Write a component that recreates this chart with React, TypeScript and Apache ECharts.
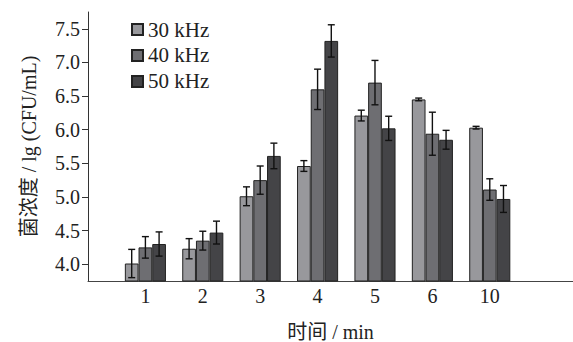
import React, { useEffect, useRef } from "react";
import * as echarts from "echarts";

const categories = ["1", "2", "3", "4", "5", "6", "10"];
const seriesNames = ["30 kHz", "40 kHz", "50 kHz"];
const values30 = [4.01, 4.23, 5.01, 5.46, 6.21, 6.45, 6.03];
const values40 = [4.25, 4.35, 5.25, 6.6, 6.7, 5.94, 5.11];
const values50 = [4.3, 4.47, 5.61, 7.32, 6.02, 5.85, 4.97];
const errors30 = [0.21, 0.15, 0.14, 0.08, 0.08, 0.02, 0.02];
const errors40 = [0.16, 0.14, 0.21, 0.3, 0.33, 0.32, 0.16];
const errors50 = [0.18, 0.17, 0.19, 0.24, 0.18, 0.14, 0.2];
const yTicks = [4.0, 4.5, 5.0, 5.5, 6.0, 6.5, 7.0, 7.5];
const colors = ["#98989c", "#6e6e72", "#444447"];

const FONT = "'Liberation Serif', 'Noto Sans CJK SC', serif";
const BAR_W = 13.7;

export default function App() {
  const ref = useRef<HTMLDivElement>(null);
  useEffect(() => {
    const chart = echarts.init(ref.current!, null, { renderer: "svg" });
    const allValues = [values30, values40, values50];
    const allErrors = [errors30, errors40, errors50];
    const positions = categories.map((_, i) => i + 1);

    const barSeries = allValues.map((vals, si) => ({
      type: "bar",
      name: seriesNames[si],
      data: vals.map((v, i) => [positions[i], v]),
      barWidth: BAR_W,
      barGap: "0%",
      itemStyle: { color: colors[si], borderColor: "#222", borderWidth: 1 },
      z: 2,
    }));

    const errSeries = allValues.map((vals, si) => ({
      type: "custom",
      name: seriesNames[si] + " err",
      z: 5,
      clip: true,
      data: vals.map((v, i) => [positions[i], v, allErrors[si][i]]),
      encode: { x: 0, y: 1 },
      renderItem: (params: any, api: any) => {
        const xi = api.value(0);
        const v = api.value(1);
        const e = api.value(2);
        const c = api.coord([xi, v]);
        const x = c[0] + (si - 1) * BAR_W;
        const top = api.coord([xi, v + e])[1];
        const bot = api.coord([xi, v - e])[1];
        const cap = 3.5;
        const st = { stroke: "#111", lineWidth: 1.4 };
        return {
          type: "group",
          children: [
            { type: "line", shape: { x1: x, y1: top, x2: x, y2: bot }, style: st },
            { type: "line", shape: { x1: x - cap, y1: top, x2: x + cap, y2: top }, style: st },
            { type: "line", shape: { x1: x - cap, y1: bot, x2: x + cap, y2: bot }, style: st },
          ],
        };
      },
    }));

    chart.setOption({
      animation: false,
      textStyle: { fontFamily: FONT },
      grid: { left: 88, right: 0, top: 12, bottom: 61, containLabel: false, outerBoundsMode: "none" },
      legend: {
        data: seriesNames,
        orient: "vertical",
        left: 126,
        top: 14,
        itemWidth: 11,
        itemHeight: 11,
        itemGap: 5,
        itemTextGap: 3,
        icon: "rect",
        textStyle: { fontSize: 21, color: "#222", fontFamily: FONT },
      },
      xAxis: {
        type: "value",
        min: 0,
        max: 8.45,
        name: "时间 / min",
        nameLocation: "middle",
        nameGap: 41,
        nameTextStyle: { fontSize: 20, color: "#222", fontFamily: FONT },
        splitLine: { show: false },
        axisLine: { lineStyle: { color: "#444", width: 1 } },
        axisTick: {
          show: true,
          inside: true,
          length: 8,
          customValues: positions,
          lineStyle: { color: "#333" },
        },
        axisLabel: {
          fontSize: 20,
          color: "#222",
          margin: 5,
          customValues: positions,
          formatter: (v: number) => categories[Math.round(v) - 1] ?? "",
          fontFamily: FONT,
        },
      },
      yAxis: {
        type: "value",
        min: 3.75,
        max: 7.75,
        name: "菌浓度 / lg (CFU/mL)",
        nameLocation: "middle",
        nameGap: 49,
        nameTextStyle: { fontSize: 20, color: "#222", fontFamily: FONT },
        splitLine: { show: false },
        axisLine: { show: true, lineStyle: { color: "#333", width: 1 } },
        axisTick: { show: true, length: 6, customValues: yTicks, lineStyle: { color: "#333" } },
        axisLabel: {
          fontSize: 20,
          color: "#222",
          margin: 8,
          customValues: yTicks,
          formatter: (v: number) => v.toFixed(1),
          fontFamily: FONT,
        },
      },
      series: [...barSeries, ...errSeries],
    });
    return () => chart.dispose();
  }, []);
  return <div ref={ref} style={{ width: 573, height: 342, position: "absolute", left: 0, top: 0 }} />;
}
